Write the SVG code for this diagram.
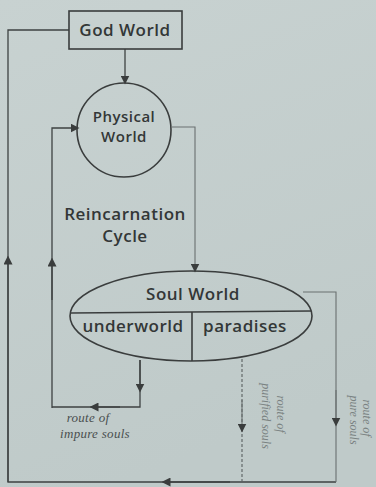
<svg xmlns="http://www.w3.org/2000/svg" width="376" height="487" viewBox="0 0 376 487">
<defs>
<marker id="ah" viewBox="0 0 10 10" refX="5" refY="5" markerWidth="9" markerHeight="9" orient="auto" markerUnits="userSpaceOnUse">
<path d="M0,0 L10,5 L0,10 z" fill="#3a3d3d"/>
</marker>
<linearGradient id="bg" x1="0" y1="0" x2="0.3" y2="1">
<stop offset="0" stop-color="#c8d2d1"/>
<stop offset="1" stop-color="#bfcac9"/>
</linearGradient>
</defs>
<style>
.ln{fill:none;stroke:#3e4242;stroke-width:1.3}
.lt{fill:none;stroke:#6a7070;stroke-width:1.1}
.dt{fill:none;stroke:#5a6060;stroke-width:1.1;stroke-dasharray:3 2}
.sh{fill:none;stroke:#3a3d3d;stroke-width:1.6}
.t{font-family:"Open Sans",Lato,sans-serif;font-weight:600;fill:#333737;text-anchor:middle;letter-spacing:0.5px}
.it{font-family:"Liberation Serif",serif;font-style:italic;fill:#4a4f4f;text-anchor:middle;font-size:13px;letter-spacing:0.3px}
.rt{font-family:"Liberation Serif",serif;font-style:italic;fill:#7a8282;text-anchor:middle;font-size:12px}
</style>
<rect width="376" height="487" fill="url(#bg)"/>
<g id="connectors">
<path class="ln" d="M69,30 H8 V482 H336"/>
<path class="ln" d="M8,482 V260" marker-end="url(#ah)"/>
<path class="ln" d="M230,482 H166" marker-end="url(#ah)"/>
<path class="ln" d="M125,49 V80" marker-end="url(#ah)"/>
<path class="lt" d="M172,127 H195 V268" marker-end="url(#ah)"/>
<path class="ln" d="M52,408 V128 H75" marker-end="url(#ah)"/>
<path class="ln" d="M52,300 V262" marker-end="url(#ah)"/>
<path class="ln" d="M140,360 V407 H52"/>
<path class="ln" d="M140,360 V388" marker-end="url(#ah)"/>
<path class="ln" d="M120,407 H94" marker-end="url(#ah)"/>
<path class="lt" d="M303,292 H336 V482"/>
<path class="lt" d="M336,390 V422" marker-end="url(#ah)"/>
<path class="dt" d="M242,359 V482"/>
<path class="lt" d="M242,400 V428" marker-end="url(#ah)"/>
</g>
<g id="god-world">
<rect x="69" y="11" width="113" height="38" class="sh"/>
<text x="125" y="36" class="t" font-size="17">God World</text>
</g>
<g id="physical-world">
<circle cx="124" cy="130" r="47" class="sh"/>
<text x="124" y="122" class="t" font-size="15">Physical</text>
<text x="124" y="142" class="t" font-size="15">World</text>
</g>
<g id="reincarnation-label">
<text x="125" y="220" class="t" font-size="17">Reincarnation</text>
<text x="125" y="242" class="t" font-size="17">Cycle</text>
</g>
<g id="soul-world">
<ellipse cx="191" cy="316" rx="121" ry="45" class="sh"/>
<line x1="71" y1="313" x2="311" y2="311" class="sh"/>
<line x1="192" y1="312" x2="192" y2="361" class="sh"/>
<text x="193" y="300" class="t" font-size="17">Soul World</text>
<text x="133" y="332" class="t" font-size="17">underworld</text>
<text x="245" y="332" class="t" font-size="17">paradises</text>
</g>
<g id="impure-label">
<text x="88" y="422" class="it">route of</text>
<text x="95" y="438" class="it">impure souls</text>
</g>
<g id="purified-label">
<text transform="translate(277,414) rotate(90)" class="rt">route of</text>
<text transform="translate(262,416) rotate(90)" class="rt">purified souls</text>
</g>
<g id="pure-label">
<text transform="translate(363,418) rotate(90)" class="rt">route of</text>
<text transform="translate(350,420) rotate(90)" class="rt">pure souls</text>
</g>
</svg>
